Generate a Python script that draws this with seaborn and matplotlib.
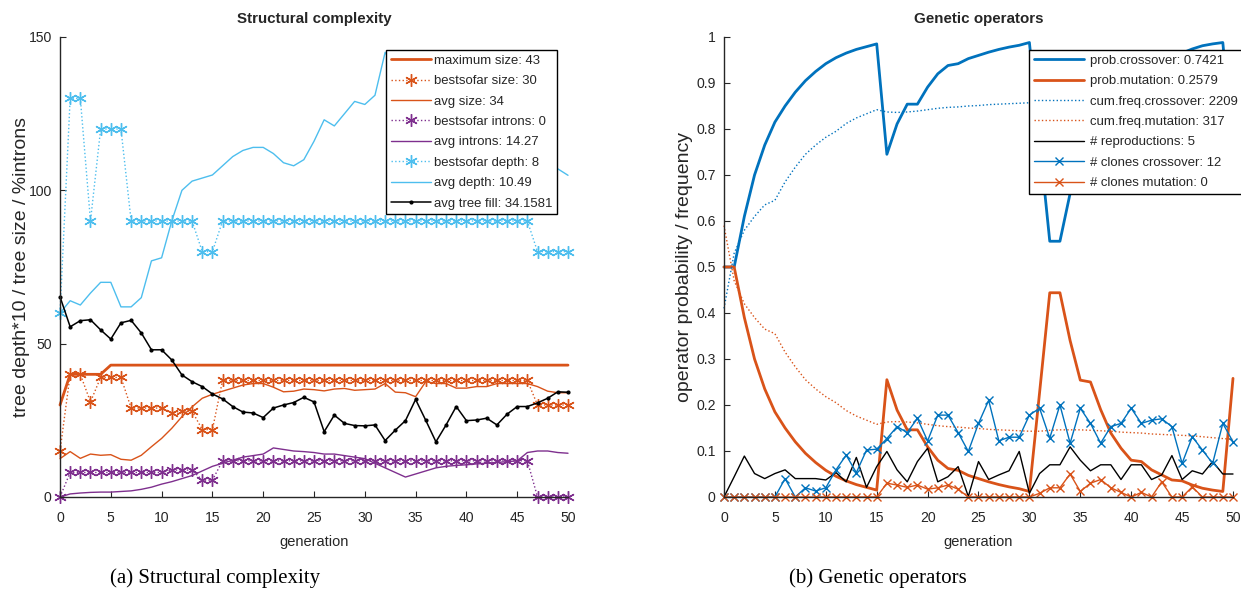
"""
Two panel GP run monitor: structural complexity and genetic operators
"""
import matplotlib
matplotlib.use("Agg")
import matplotlib.pyplot as plt
from matplotlib import font_manager
import seaborn as sns

generation = list(range(51))

# ---- (a) structural complexity ----
maximum_size = [30, 40, 40, 40, 40, 43, 43, 43, 43, 43, 43, 43, 43, 43, 43, 43, 43,
                43, 43, 43, 43, 43, 43, 43, 43, 43, 43, 43, 43, 43, 43, 43, 43, 43,
                43, 43, 43, 43, 43, 43, 43, 43, 43, 43, 43, 43, 43, 43, 43, 43, 43]
bestsofar_size = [15, 40, 40, 31, 39, 39, 39, 29, 29, 29, 29, 27.5, 28, 28, 22, 22, 38,
                  38, 38, 38, 38, 38, 38, 38, 38, 38, 38, 38, 38, 38, 38, 38, 38, 38,
                  38, 38, 38, 38, 38, 38, 38, 38, 38, 38, 38, 38, 38, 30, 30, 30, 30]
avg_size = [12.5, 14.8, 12.6, 14, 13.6, 13.8, 12.3, 12, 13.6, 16.4, 19.1, 22.4, 26.2,
            29.4, 32.2, 33.5, 34.5, 35.5, 36.5, 37, 37, 35.8, 34.3, 34.5, 35.2, 35,
            34.6, 35.2, 35.4, 34.8, 35, 35.2, 37, 34.2, 34, 32.7, 37.6, 37, 37, 35.5,
            35.5, 36, 36, 37, 37, 37, 37, 36, 34.5, 34, 34]
bestsofar_introns = [0, 8, 8, 8, 8, 8, 8, 8, 8, 8, 8, 8.8, 8.8, 8.8, 5.5, 5.5, 11.8,
                     11.8, 11.8, 11.8, 11.8, 11.8, 11.8, 11.8, 11.8, 11.8, 11.8, 11.8,
                     11.8, 11.8, 11.8, 11.8, 11.8, 11.8, 11.8, 11.8, 11.8, 11.8, 11.8,
                     11.8, 11.8, 11.8, 11.8, 11.8, 11.8, 11.8, 11.8, 0, 0, 0, 0]
avg_introns = [0, 1, 1.3, 1.5, 1.6, 1.6, 1.8, 2, 2.5, 3.2, 4.2, 5, 6, 7, 8.5, 10, 11,
               12, 13, 13.5, 14, 16, 15.5, 15, 14.8, 14.5, 14, 14, 13.5, 13, 12.5, 11,
               9.5, 8, 6.5, 7.5, 8.5, 9.5, 10, 10.3, 10.5, 10.8, 11, 11.3, 11.5, 11.8,
               14.5, 15, 15, 14.5, 14.27]
bestsofar_depth = [60, 130, 130, 90, 120, 120, 120, 90, 90, 90, 90, 90, 90, 90, 80, 80,
                   90, 90, 90, 90, 90, 90, 90, 90, 90, 90, 90, 90, 90, 90, 90, 90, 90,
                   90, 90, 90, 90, 90, 90, 90, 90, 90, 90, 90, 90, 90, 90, 80, 80, 80, 80]
avg_depth = [60, 64, 62.6, 66.5, 70, 70, 62, 62, 65, 77, 78, 90, 100, 103, 104, 105,
             108, 111, 113, 114, 114, 112, 109, 108, 110, 116, 123, 121, 125, 129, 128,
             131, 145, 140, 138, 137, 136, 135, 134, 132, 130, 128, 126, 123, 120, 117,
             114, 111, 109, 107, 104.9]
avg_tree_fill = [65.3, 55.5, 57.5, 57.8, 54.5, 51.5, 56.8, 57.6, 53.5, 48, 48, 44.7,
                 39.8, 37.6, 36, 33.6, 32, 29.5, 27.7, 27.4, 25.9, 29, 30, 30.8, 32.5,
                 31, 21.3, 26.7, 24, 23.3, 23.2, 23.5, 18.4, 21.8, 24.9, 31.8, 25, 18,
                 23.5, 29.5, 24.9, 25.1, 25.7, 23.5, 27, 29.5, 29.5, 30.7, 32.2, 34.3,
                 34.16]

# ---- (b) genetic operators ----
prob_crossover = [0.5, 0.5, 0.61, 0.70, 0.765, 0.815, 0.85, 0.88, 0.905, 0.925, 0.942,
                  0.955, 0.965, 0.973, 0.979, 0.985, 0.745, 0.811, 0.854, 0.854, 0.891,
                  0.92, 0.938, 0.942, 0.953, 0.96, 0.967, 0.973, 0.978, 0.982, 0.988,
                  0.773, 0.556, 0.556, 0.66, 0.746, 0.75, 0.81, 0.861, 0.894, 0.92,
                  0.923, 0.941, 0.952, 0.963, 0.965, 0.974, 0.981, 0.985, 0.988, 0.7421]
prob_mutation = [0.5, 0.5, 0.39, 0.30, 0.235, 0.185, 0.15, 0.12, 0.095, 0.075, 0.058,
                 0.045, 0.035, 0.027, 0.021, 0.015, 0.255, 0.189, 0.146, 0.146, 0.109,
                 0.08, 0.062, 0.058, 0.047, 0.04, 0.033, 0.027, 0.022, 0.018, 0.012,
                 0.227, 0.444, 0.444, 0.34, 0.254, 0.25, 0.19, 0.139, 0.106, 0.08,
                 0.077, 0.059, 0.048, 0.037, 0.035, 0.026, 0.019, 0.015, 0.012, 0.2579]
cumfreq_crossover = [0.41, 0.53, 0.58, 0.61, 0.635, 0.645, 0.685, 0.717, 0.745, 0.765,
                     0.782, 0.795, 0.812, 0.824, 0.833, 0.842, 0.837, 0.836, 0.837,
                     0.839, 0.842, 0.845, 0.847, 0.848, 0.85, 0.851, 0.853, 0.854,
                     0.855, 0.856, 0.857, 0.857, 0.855, 0.854, 0.854, 0.854, 0.855,
                     0.856, 0.857, 0.859, 0.86, 0.861, 0.863, 0.864, 0.865, 0.866,
                     0.867, 0.869, 0.871, 0.873, 0.8745]
cumfreq_mutation = [0.59, 0.47, 0.42, 0.39, 0.365, 0.355, 0.315, 0.283, 0.255, 0.235,
                    0.218, 0.205, 0.188, 0.176, 0.167, 0.158, 0.163, 0.164, 0.163,
                    0.161, 0.158, 0.155, 0.153, 0.152, 0.15, 0.149, 0.147, 0.146,
                    0.145, 0.144, 0.143, 0.143, 0.145, 0.146, 0.146, 0.146, 0.145,
                    0.144, 0.143, 0.141, 0.14, 0.139, 0.137, 0.136, 0.135, 0.134,
                    0.133, 0.131, 0.129, 0.127, 0.1255]
reproductions = [0, 0.044, 0.089, 0.051, 0.04, 0.051, 0.059, 0.04, 0.04, 0.04, 0.037,
                 0.053, 0.033, 0.086, 0.021, 0.066, 0.099, 0.059, 0.033, 0.077, 0.106,
                 0.033, 0.044, 0.066, 0.001, 0.077, 0.038, 0.048, 0.057, 0.099, 0.008,
                 0.051, 0.07, 0.07, 0.109, 0.08, 0.057, 0.07, 0.07, 0.038, 0.07, 0.07,
                 0.038, 0.048, 0.09, 0.038, 0.057, 0.05, 0.077, 0.05, 0.05]
clones_crossover = [0, 0, 0, 0, 0, 0, 0.04, 0, 0.02, 0.013, 0.02, 0.059, 0.091, 0.053,
                    0.102, 0.104, 0.127, 0.153, 0.14, 0.171, 0.122, 0.178, 0.178, 0.14,
                    0.099, 0.16, 0.21, 0.122, 0.13, 0.13, 0.178, 0.193, 0.128, 0.2,
                    0.117, 0.193, 0.16, 0.117, 0.153, 0.16, 0.193, 0.16, 0.167, 0.17,
                    0.153, 0.073, 0.131, 0.102, 0.073, 0.16, 0.12]
clones_mutation = [0, 0, 0, 0, 0, 0, 0, 0, 0, 0, 0, 0, 0, 0, 0, 0, 0.03, 0.026, 0.021,
                   0.026, 0.017, 0.02, 0.026, 0.017, 0, 0, 0, 0, 0, 0, 0, 0.008, 0.02,
                   0.02, 0.05, 0.012, 0.03, 0.038, 0.02, 0.01, 0, 0.01, 0, 0.033, 0, 0,
                   0.022, 0, 0, 0, 0]

gen_ticks = [0, 5, 10, 15, 20, 25, 30, 35, 40, 45, 50]
size_ticks = [0, 50, 100, 150]
prob_ticks = [0, 0.1, 0.2, 0.3, 0.4, 0.5, 0.6, 0.7, 0.8, 0.9, 1]
prob_ticklabels = ["0", "0.1", "0.2", "0.3", "0.4", "0.5", "0.6", "0.7", "0.8", "0.9", "1"]

BLUE, ORANGE, PURPLE, CYAN = "#0072BD", "#D95319", "#7E2F8E", "#4DBEEE"
INK = "#262626"

sns.set_theme(style="ticks")
names = {f.name for f in font_manager.fontManager.ttflist}
narrow = "Liberation Sans Narrow" in names
plt.rcParams["font.family"] = ["Liberation Sans Narrow" if narrow else "Liberation Sans", "DejaVu Sans"]
k = 1.0 if narrow else 0.84
fs_tick, fs_leg, fs_title, fs_xlab = 12 * k, 11.3 * k, 13 * k, 12.5 * k

fig = plt.figure(figsize=(12.41, 5.98), dpi=100)
ax1 = fig.add_axes([0.04835, 0.1689, 0.40935, 0.76923])
ax2 = fig.add_axes([0.5834, 0.1689, 0.41015, 0.76923])

ast = (6, 2, 0)


def line(ax, y, color, label, ls="-", lw=1.0, marker=None, ms=0):
    sns.lineplot(x=generation, y=y, ax=ax, color=color, linestyle=ls, linewidth=lw,
                 marker=marker, markersize=ms, markeredgecolor=color,
                 markerfacecolor=color, markeredgewidth=1.0, label=label,
                 clip_on=False)


line(ax1, maximum_size, ORANGE, "maximum size: 43", lw=2.0)
line(ax1, bestsofar_size, ORANGE, "bestsofar size: 30", ls=":", marker=ast, ms=9)
line(ax1, avg_size, ORANGE, "avg size: 34", lw=1.0)
line(ax1, bestsofar_introns, PURPLE, "bestsofar introns: 0", ls=":", marker=ast, ms=9)
line(ax1, avg_introns, PURPLE, "avg introns: 14.27", lw=1.0)
line(ax1, bestsofar_depth, CYAN, "bestsofar depth: 8", ls=":", marker=ast, ms=9)
line(ax1, avg_depth, CYAN, "avg depth: 10.49", lw=1.0)
line(ax1, avg_tree_fill, "black", "avg tree fill: 34.1581", lw=1.1, marker=".", ms=4)

line(ax2, prob_crossover, BLUE, "prob.crossover: 0.7421", lw=2.0)
line(ax2, prob_mutation, ORANGE, "prob.mutation: 0.2579", lw=2.0)
line(ax2, cumfreq_crossover, BLUE, "cum.freq.crossover: 2209", ls=":", lw=1.0)
line(ax2, cumfreq_mutation, ORANGE, "cum.freq.mutation: 317", ls=":", lw=1.0)
line(ax2, reproductions, "black", "# reproductions: 5", lw=1.0)
line(ax2, clones_crossover, BLUE, "# clones crossover: 12", lw=1.0, marker="x", ms=6)
line(ax2, clones_mutation, ORANGE, "# clones mutation: 0", lw=1.0, marker="x", ms=6)

for ax in (ax1, ax2):
    ax.set_xlim(0, 50)
    ax.set_xticks(gen_ticks)
    ax.spines["top"].set_visible(False)
    ax.spines["right"].set_visible(False)
    for side in ("left", "bottom"):
        ax.spines[side].set_color(INK)
        ax.spines[side].set_linewidth(1.0)
    ax.tick_params(direction="in", length=4, width=0.8, colors=INK, labelsize=fs_tick)
    ax.tick_params(axis="x", pad=10)
    ax.tick_params(axis="y", pad=6)
    ax.set_xlabel("generation", fontsize=fs_xlab, color=INK, labelpad=7)

ax1.set_ylim(0, 150)
ax1.set_yticks(size_ticks)
ax1.set_ylabel("tree depth*10 / tree size / %introns", fontsize=14,
               family="Liberation Sans", color=INK)
ax1.yaxis.set_label_coords(-0.06, 0.5)
ax1.set_title("Structural complexity", fontsize=fs_title, fontweight="bold", pad=10)

ax2.set_ylim(0, 1)
ax2.set_yticks(prob_ticks)
ax2.set_yticklabels(prob_ticklabels)
ax2.set_ylabel("operator probability / frequency", fontsize=14,
               family="Liberation Sans", color=INK)
ax2.yaxis.set_label_coords(-0.06, 0.5)
ax2.set_title("Genetic operators", fontsize=fs_title, fontweight="bold", pad=10)

leg_kw = dict(loc="upper right", borderaxespad=0, fontsize=fs_leg, frameon=True,
              fancybox=False, framealpha=1, edgecolor="black", borderpad=0.35)
l1 = ax1.legend(bbox_to_anchor=(0.978, 0.972), handlelength=3.0, handletextpad=0.25,
                labelspacing=0.62, **leg_kw)
l2 = ax2.legend(bbox_to_anchor=(1.018, 0.972), handlelength=3.8, handletextpad=0.45,
                labelspacing=0.62, **leg_kw)
for leg in (l1, l2):
    leg.get_frame().set_linewidth(1.0)
    leg.set_zorder(10)

fig.text(0.173, 0.033, "(a) Structural complexity", ha="center", va="center",
         family="Liberation Serif", fontsize=15, color="black")
fig.text(0.707, 0.033, "(b) Genetic operators", ha="center", va="center",
         family="Liberation Serif", fontsize=15, color="black")

fig.savefig("out.png", dpi=100, facecolor="white")
